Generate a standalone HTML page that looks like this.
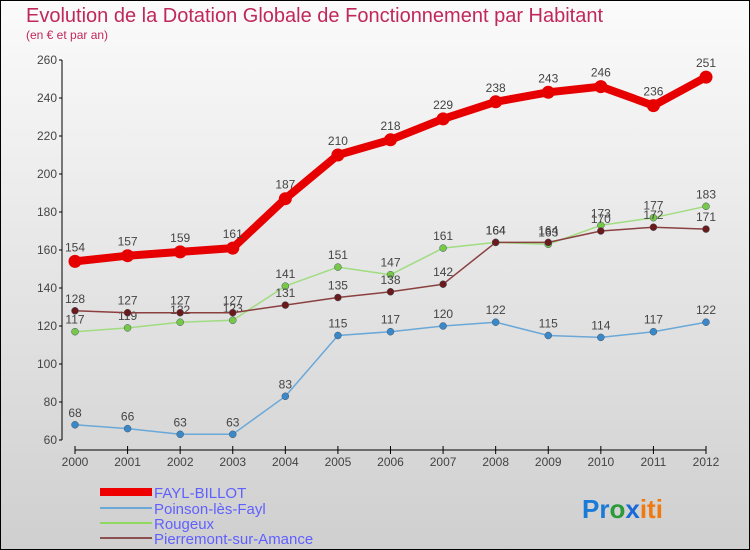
<!DOCTYPE html>
<html><head><meta charset="utf-8"><style>
body{margin:0}
svg{display:block;font-family:"Liberation Sans",sans-serif}
</style></head><body>
<svg width="750" height="550" id="c">
<defs><linearGradient id="bg" x1="0" y1="0" x2="0" y2="1"><stop offset="0" stop-color="#fbfbfb"/><stop offset="1" stop-color="#cfcfcf"/></linearGradient></defs>
<rect x="0.5" y="0.5" width="749" height="549" fill="url(#bg)" stroke="#000"/>
<text x="26" y="22" font-size="20" fill="#c0285a">Evolution de la Dotation Globale de Fonctionnement par Habitant</text>
<text x="26" y="39" font-size="12" fill="#c0285a">(en € et par an)</text>
<g id="axes"></g><g id="series"></g>
<g>
<rect x="100" y="488" width="52" height="8" fill="#e00"/>
<text x="154" y="498" font-size="15" fill="#6060ff">FAYL-BILLOT</text>
<rect x="100" y="507" width="52" height="2" fill="#6aa8d8"/>
<text x="154" y="514" font-size="15" fill="#6060ff">Poinson-lès-Fayl</text>
<rect x="100" y="522" width="52" height="2" fill="#90d860"/>
<text x="154" y="529" font-size="15" fill="#6060ff">Rougeux</text>
<rect x="100" y="537" width="52" height="2" fill="#8b5050"/>
<text x="154" y="544" font-size="15" fill="#6060ff">Pierremont-sur-Amance</text>
</g>
<text x="582" y="518" font-size="26" font-weight="bold"><tspan fill="#1a7ad8">Pr</tspan><tspan fill="#2a9a3a">o</tspan><tspan fill="#1a6ad8">x</tspan><tspan fill="#f07a10">iti</tspan></text>
</svg>
<script>
const years=[2000,2001,2002,2003,2004,2005,2006,2007,2008,2009,2010,2011,2012];
const fayl=[154,157,159,161,187,210,218,229,238,243,246,236,251];
const poinson=[68,66,63,63,83,115,117,120,122,115,114,117,122];
const rougeux=[117,119,122,123,141,151,147,161,164,163,173,177,183];
const pierremont=[128,127,127,127,131,135,138,142,164,164,170,172,171];
const yTicks=[60,80,100,120,140,160,180,200,220,240,260];
const NS="http://www.w3.org/2000/svg";
const xS=i=>75+i*(706-75)/(years.length-1);
const yS=v=>440-(v-60)*(440-60)/200;
function mk(p,tag,a){const e=document.createElementNS(NS,tag);for(const k in a)e.setAttribute(k,a[k]);p.appendChild(e);return e;}
const ax=document.getElementById('axes');
let l=mk(ax,'line',{x1:62,y1:60,x2:62,y2:440,stroke:'#000'});


yTicks.forEach(t=>{const y=yS(t);
mk(ax,'line',{x1:59,y1:y,x2:62,y2:y,stroke:'#000'});
const tx=mk(ax,'text',{x:57,y:y+4,'font-size':12,fill:'#444','text-anchor':'end'});tx.textContent=t;

});
l=mk(ax,'line',{x1:75,y1:450,x2:706,y2:450,stroke:'#000'});


years.forEach((yr,i)=>{const x=xS(i);
mk(ax,'line',{x1:x,y1:446,x2:x,y2:454,stroke:'#000'});
const tx=mk(ax,'text',{x:x,y:466,'font-size':12,fill:'#444','text-anchor':'middle'});tx.textContent=yr;

});
const sg=document.getElementById('series');
function draw(name,vals,col,w,r,dot){
const g=mk(sg,'g',{});


const pl=mk(g,'polyline',{points:vals.map((v,i)=>xS(i)+','+yS(v)).join(' '),fill:'none',stroke:col,'stroke-width':w,'stroke-linejoin':'round'});


vals.forEach((v,i)=>{const c=mk(g,'circle',{cx:xS(i),cy:yS(v),r:r,fill:dot,stroke:w>3?'none':'#456','stroke-width':0.5});


const t=mk(g,'text',{x:xS(i),y:yS(v)-(w>3?10:8),'font-size':12,fill:'#444','text-anchor':'middle'});t.textContent=v;

});}
draw('poinson',poinson,'#6aa8d8',1.5,3.5,'#3a88c8');
draw('rougeux',rougeux,'#a0dc80',1.5,3.5,'#78c848');
draw('pierremont',pierremont,'#8b4040',1.5,3.5,'#6a1a1a');
draw('fayl',fayl,'#e60000',8,6.5,'#e60000');
</script>
</body></html>
